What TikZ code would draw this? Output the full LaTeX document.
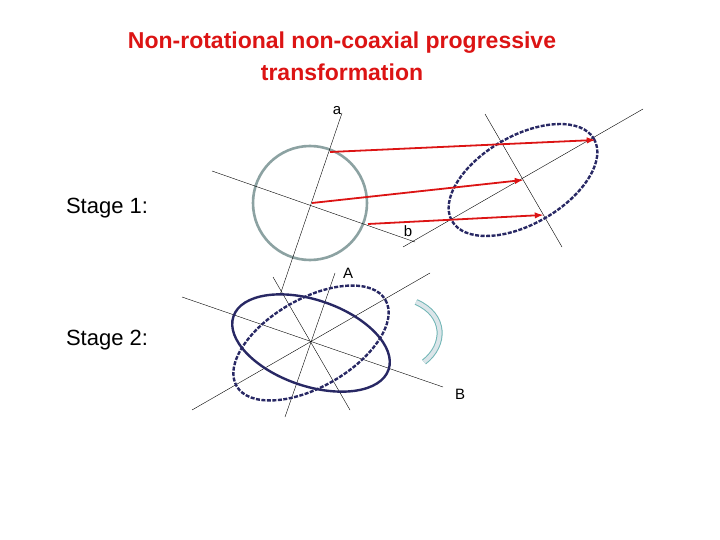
\documentclass[tikz,border=0pt]{standalone}
\usepackage{fontspec}
\setmainfont{Liberation Sans}
\begin{document}
\definecolor{ellnavy}{RGB}{40,40,100}
\definecolor{circgray}{RGB}{140,162,162}
\definecolor{arrred}{RGB}{220,20,20}
\begin{tikzpicture}[x=1pt,y=-1pt,
    axisline/.style={black, line width=0.4pt},
    ellsolid/.style={ellnavy, line width=2.4pt},
    elldash/.style={ellnavy, line width=2.4pt, dash pattern=on 4pt off 1.5pt},
    redarrow/.style={arrred, line width=1.8pt, -latex},
    lbl/.style={font=\fontsize{15}{17}\selectfont},
    stagelbl/.style={font=\fontsize{22}{24}\selectfont, anchor=center}]
    \useasboundingbox (0,0) rectangle (720,540);

    % Titel
    \node[text=arrred, font=\bfseries\fontsize{23}{32}\selectfont, align=center] (title) at (342,56)
        {Non-rotational non-coaxial progressive\\transformation};

    % Stufe 1
    \node[stagelbl] (stage1) at (107,208) {Stage 1:};
    \coordinate (C) at (310,203);
    \draw[circgray, line width=2.6pt] (C) circle (57);
    \draw[axisline] (342,113) coordinate (aend) -- (280,295);
    \draw[axisline] (212,171) -- (415,242) coordinate (bend);
    \node[lbl] (la) at (337,111) {a};
    \node[lbl] (lb) at (408,231) {b};

    \coordinate (E) at (523,180);
    \draw[axisline] (403,247) -- (643,109);
    \draw[axisline] (485,114) -- (562,247);
    \draw[elldash, rotate around={30:(E)}] (E) ellipse (82 and 44);

    \coordinate (p1) at (330,152);
    \coordinate (q1) at (595,140);
    \coordinate (p2) at (312,203);
    \coordinate (q2) at (523,180);
    \coordinate (p3) at (368,224);
    \coordinate (q3) at (543,215);
    \foreach \i in {1,2,3}
        \draw[redarrow] (p\i) -- (q\i);

    % Stufe 2
    \node[stagelbl] (stage2) at (107,340) {Stage 2:};
    \coordinate (D) at (311,343);
    \draw[axisline] (182,297) -- (443,387);
    \draw[axisline] (192,410) -- (430,273);
    \draw[axisline] (273,277) -- (350,410);
    \draw[axisline] (335,273) -- (285,417);
    \draw[elldash, rotate around={30:(D)}] (D) ellipse (86 and 44);
    \draw[ellsolid, rotate around={-19:(D)}] (D) ellipse (82 and 43);
    \node[lbl] (lA) at (348,273) {A};
    \node[lbl] (lB) at (460,394) {B};

    % Drehpfeil
    \draw[draw=circgray!80!cyan, double=cyan!15!circgray!30, double distance=4pt, line width=1pt]
        (416,302) .. controls (446,315) and (446,345) .. (424,362);
\end{tikzpicture}
\end{document}
